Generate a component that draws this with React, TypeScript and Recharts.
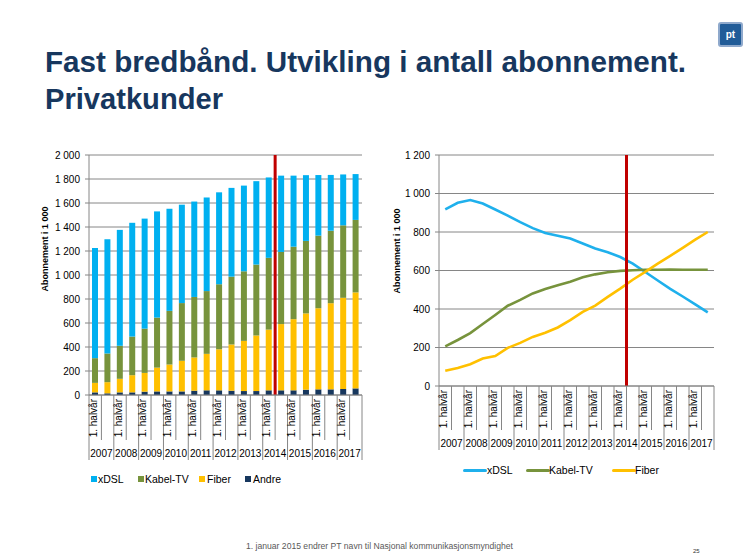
import React from 'react';
import { BarChart, Bar, LineChart, Line, XAxis, YAxis, CartesianGrid, ReferenceLine } from 'recharts';

// ---------- DATA ----------
const categories = [
  '2007 H1', '2007 H2', '2008 H1', '2008 H2', '2009 H1', '2009 H2', '2010 H1', '2010 H2',
  '2011 H1', '2011 H2', '2012 H1', '2012 H2', '2013 H1', '2013 H2', '2014 H1', '2014 H2',
  '2015 H1', '2015 H2', '2016 H1', '2016 H2', '2017 H1', '2017 H2',
];
const halfLabel = '1. halvår';
const xdsl = [918, 952, 966, 948, 917, 885, 851, 820, 795, 780, 766, 740, 714, 695, 670, 636, 592, 548, 505, 465, 424, 382];
const kabelTV = [206, 239, 275, 322, 369, 417, 447, 481, 504, 523, 542, 565, 580, 591, 598, 601, 604, 604, 605, 604, 604, 604];
const fiber = [79, 93, 113, 143, 156, 198, 224, 255, 277, 304, 342, 385, 418, 463, 506, 552, 593, 636, 676, 718, 760, 800];
const andre = [22, 14, 22, 22, 28, 30, 30, 30, 36, 39, 39, 36, 33, 33, 39, 39, 39, 44, 47, 47, 50, 55];
const leftTicks = [0, 200, 400, 600, 800, 1000, 1200, 1400, 1600, 1800, 2000];
const rightTicks = [0, 200, 400, 600, 800, 1000, 1200];
const markerCategory = '2014 H1';

const data = categories.map((cat, i) => ({
  cat,
  xdsl: xdsl[i],
  kabel: kabelTV[i],
  fiber: fiber[i],
  andre: andre[i],
}));

// ---------- STYLE ----------
const FONT = '"Liberation Sans", Arial, sans-serif';
const C_XDSL = '#00B0F0';
const C_XDSL_LINE = '#1FB0EC';
const C_KABEL = '#77933C';
const C_FIBER = '#FFC000';
const C_ANDRE = '#17375E';
const C_RED = '#C00000';
const C_GRID = '#868686';

const fmt = (v: number) => (v >= 1000 ? `${Math.floor(v / 1000)} ${String(v % 1000).padStart(3, '0')}` : String(v));

// left chart geometry
const LW = 380, LH = 360;
const LM = { top: 15, right: 18, left: 0, bottom: 35 };
const LYW = 89;
const LBW = (LW - LM.right - LM.left - LYW) / categories.length;
// right chart geometry
const RW = 340, RH = 360;
const RM = { top: 15, right: 16, left: 0, bottom: 44 };
const RYW = 49;
const RBW = (RW - RM.right - RM.left - RYW) / categories.length;

function HalfTick(props: any) {
  const { x, y, payload, bw, rowH, yearH, yearDy } = props;
  const idx = payload?.index ?? props.index ?? 0;
  const cat: string = payload.value;
  const isFirst = cat.endsWith('H1');
  const year = cat.slice(0, 4);
  const left = x - bw / 2;
  return (
    <g>
      <line x1={left} y1={y} x2={left} y2={y + (isFirst ? yearH : rowH)} stroke={C_GRID} strokeWidth={1} />
      {idx === categories.length - 1 && (
        <line x1={x + bw / 2} y1={y} x2={x + bw / 2} y2={y + yearH} stroke={C_GRID} strokeWidth={1} />
      )}
      {isFirst && (
        <text transform={`translate(${x + 1.5},${y + 4}) rotate(-90)`} textAnchor="end" fontSize={10} fill="#000" fontFamily={FONT}>
          {halfLabel}
        </text>
      )}
      {isFirst && (
        <text x={x + bw / 2} y={y + yearDy} textAnchor="middle" fontSize={10} fill="#000" fontFamily={FONT}>
          {year}
        </text>
      )}
    </g>
  );
}

const abs = (left: number, top: number): React.CSSProperties => ({ position: 'absolute', left, top });

export default function App() {
  return (
    <div style={{ position: 'absolute', left: 0, top: 0, width: 754, height: 558, background: '#fff', overflow: 'hidden', fontFamily: FONT }}>
      {/* Title */}
      <svg width={754} height={130} style={abs(0, 0)}>
        <text x={45} y={72} fontSize={30} fontWeight="bold" fill="#17375E" fontFamily={FONT} textLength={641} lengthAdjust="spacingAndGlyphs">
          Fast bredbånd. Utvikling i antall abonnement.
        </text>
        <text x={45} y={109} fontSize={30} fontWeight="bold" fill="#17375E" fontFamily={FONT} textLength={178} lengthAdjust="spacingAndGlyphs">
          Privatkunder
        </text>
      </svg>
      {/* Logo */}
      <div style={{ ...abs(718, 22), width: 21, height: 21, borderRadius: 3, background: '#215C98', border: '2px solid #8FA9CC', color: '#fff', fontSize: 10, fontWeight: 'bold', lineHeight: '21px', textAlign: 'center' }}>
        pt
      </div>

      {/* Left chart */}
      <div style={abs(0, 140)}>
        <BarChart width={LW} height={LH} data={data} margin={LM} barSize={6}>
          <CartesianGrid vertical={false} stroke={C_GRID} />
          <XAxis
            dataKey="cat"
            interval={0}
            tickLine={false}
            tickSize={0}
            tickMargin={0}
            height={70}
            axisLine={{ stroke: C_GRID }}
            tick={<HalfTick bw={LBW} rowH={45} yearH={65} yearDy={62} />}
          />
          <YAxis
            width={LYW}
            domain={[0, 2000]}
            ticks={leftTicks}
            tickFormatter={fmt}
            tickSize={4}
            tickMargin={5}
            axisLine={{ stroke: C_GRID }}
            tickLine={{ stroke: C_GRID }}
            tick={{ fill: '#000', fontSize: 10, fontFamily: FONT }}
          />
          <Bar dataKey="andre" stackId="s" fill={C_ANDRE} isAnimationActive={false} />
          <Bar dataKey="fiber" stackId="s" fill={C_FIBER} isAnimationActive={false} />
          <Bar dataKey="kabel" stackId="s" fill={C_KABEL} isAnimationActive={false} />
          <Bar dataKey="xdsl" stackId="s" fill={C_XDSL} isAnimationActive={false} />
          <ReferenceLine x={markerCategory} position="end" stroke={C_RED} strokeWidth={3} ifOverflow="visible" />
        </BarChart>
      </div>

      {/* Right chart */}
      <div style={abs(390, 140)}>
        <LineChart width={RW} height={RH} data={data} margin={RM}>
          <CartesianGrid vertical={false} stroke={C_GRID} />
          <XAxis
            dataKey="cat"
            scale="band"
            interval={0}
            tickLine={false}
            tickSize={0}
            tickMargin={0}
            height={70}
            axisLine={{ stroke: C_GRID }}
            tick={<HalfTick bw={RBW} rowH={44} yearH={64} yearDy={61} />}
          />
          <YAxis
            width={RYW}
            domain={[0, 1200]}
            ticks={rightTicks}
            tickFormatter={fmt}
            tickSize={4}
            tickMargin={5}
            axisLine={{ stroke: C_GRID }}
            tickLine={{ stroke: C_GRID }}
            tick={{ fill: '#000', fontSize: 10, fontFamily: FONT }}
          />
          <Line dataKey="xdsl" stroke={C_XDSL_LINE} strokeWidth={2.6} dot={false} isAnimationActive={false} />
          <Line dataKey="kabel" stroke={C_KABEL} strokeWidth={2.6} dot={false} isAnimationActive={false} />
          <Line dataKey="fiber" stroke={C_FIBER} strokeWidth={2.6} dot={false} isAnimationActive={false} />
          <ReferenceLine x={markerCategory} position="end" stroke={C_RED} strokeWidth={3} ifOverflow="visible" />
        </LineChart>
      </div>

      {/* Y axis titles */}
      <svg width={754} height={558} style={{ ...abs(0, 0), pointerEvents: 'none' }}>
        <text transform="translate(48,249) rotate(-90)" textAnchor="middle" fontSize={9} fontWeight="bold" fill="#000" fontFamily={FONT}>
          Abonnement i 1 000
        </text>
        <text transform="translate(400,251) rotate(-90)" textAnchor="middle" fontSize={9} fontWeight="bold" fill="#000" fontFamily={FONT}>
          Abonnement i 1 000
        </text>
        {/* footer */}
        <text x={246} y={549} fontSize={8.5} fill="#595959" fontFamily={FONT} textLength={267} lengthAdjust="spacingAndGlyphs">
          1. januar 2015 endrer PT navn til Nasjonal kommunikasjonsmyndighet
        </text>
        <text x={693} y={553} fontSize={6} fill="#333" fontFamily={FONT}>25</text>
      </svg>

      {/* Left legend */}
      {[
        { label: 'xDSL', color: C_XDSL, sx: 91, tx: 98 },
        { label: 'Kabel-TV', color: C_KABEL, sx: 138, tx: 145 },
        { label: 'Fiber', color: C_FIBER, sx: 199, tx: 207 },
        { label: 'Andre', color: C_ANDRE, sx: 245, tx: 253 },
      ].map((it) => (
        <React.Fragment key={it.label}>
          <div style={{ ...abs(it.sx, 476), width: 6, height: 6, background: it.color }} />
          <div style={{ ...abs(it.tx, 472), fontSize: 10.5, lineHeight: '14px', color: '#000', whiteSpace: 'nowrap' }}>{it.label}</div>
        </React.Fragment>
      ))}

      {/* Right legend */}
      {[
        { label: 'xDSL', color: C_XDSL_LINE, sx: 463, tx: 487 },
        { label: 'Kabel-TV', color: C_KABEL, sx: 526, tx: 549 },
        { label: 'Fiber', color: C_FIBER, sx: 612, tx: 635 },
      ].map((it) => (
        <React.Fragment key={it.label}>
          <div style={{ ...abs(it.sx, 469), width: 24, height: 3, background: it.color, borderRadius: 1.5 }} />
          <div style={{ ...abs(it.tx, 463), fontSize: 10.5, lineHeight: '14px', color: '#000', whiteSpace: 'nowrap' }}>{it.label}</div>
        </React.Fragment>
      ))}
    </div>
  );
}
